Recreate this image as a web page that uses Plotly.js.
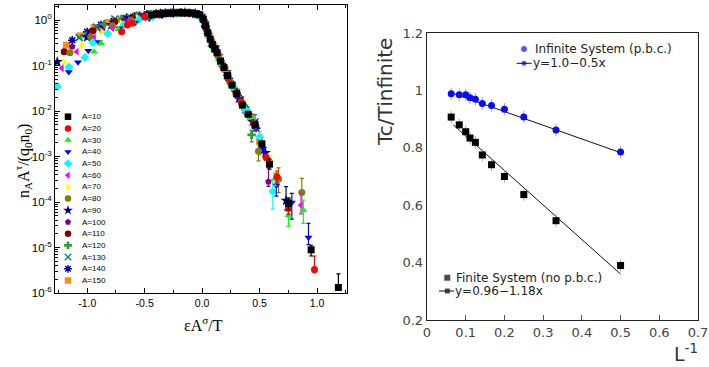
<!DOCTYPE html>
<html><head><meta charset="utf-8">
<script src="https://cdn.plot.ly/plotly-3.0.1.min.js"></script>
<style>html,body{margin:0;padding:0;background:#fff;}#chart{width:709px;height:367px;}</style>
</head><body><div id="chart"></div>
<script>
// ---------------- Left panel data (scaling collapse) ----------------
const seriesLabels = ['A=10','A=20','A=30','A=40','A=50','A=60','A=70','A=80','A=90','A=100','A=110','A=120','A=130','A=140','A=150'];
const seriesColors = ['#000000','#ff0000','#00ff00','#0000ff','#00ffff','#ff00ff','#ffff00','#808000','#000080','#800080','#800000','#339933','#008080','#0000a0','#ff8c1a'];
const seriesSymbols = ['square','circle','triangle-up','triangle-down','diamond','triangle-left','triangle-right','circle','star','pentagon','circle','cross','x-thin-open','asterisk-open','square'];

const xA10 = [-0.44,-0.38,-0.33,-0.28,-0.23,-0.18,-0.13,-0.09,-0.05,-0.02,0.01,0.03,0.05,0.07,0.09,0.11,0.13,0.16,0.19,0.22,0.26,0.30,0.35,0.40,0.46,0.52,0.586,0.751,0.948,1.185];
const yA10 = [1.29,1.35,1.39,1.42,1.44,1.45,1.44,1.42,1.38,1.30,1.05,0.74,0.52,0.38,0.29,0.23,0.19,0.125,0.090,0.060,0.037,0.024,0.0135,0.0085,0.0050,0.0019,0.00068,9.3e-5,8.9e-6,1.32e-6];
const errUpA10 = [2e-4,3e-5,2.3e-6,1.3e-6];
const errDnA10 = [1.5e-4,2.5e-5,2.4e-6,0];

const xA20 = [-0.70,-0.65,-0.61,-0.50,-0.40,-0.30,-0.21,-0.12,-0.04,0.04,0.13,0.23,0.34,0.45,0.557,0.65,0.751,0.977];
const yA20 = [0.55,0.78,0.85,1.17,1.30,1.38,1.42,1.40,1.30,0.60,0.19,0.052,0.016,0.0054,0.00095,0.00036,7.2e-5,3.3e-6];
const errUpA20 = [1.5e-4,1.2e-4,2.0e-5,3.2e-6];
const errDnA20 = [1.2e-4,1.0e-4,1.8e-5,0.5e-6];

const xA30 = [-0.94,-0.88,-0.73,-0.60,-0.48,-0.37,-0.27,-0.17,-0.08,0.01,0.10,0.20,0.31,0.42,0.52,0.635,0.751,0.88];
const yA30 = [0.20,0.31,0.63,0.90,1.12,1.27,1.36,1.40,1.37,1.0,0.26,0.079,0.022,0.0072,0.0019,0.00033,5.1e-5,6.6e-5];
const errUpA30 = [1.0e-4,2.1e-5,4.4e-5];
const errDnA30 = [1.0e-4,2.2e-5,3.2e-5];

const xA40 = [-1.16,-1.08,-0.99,-0.90,-0.72,-0.58,-0.46,-0.35,-0.25,-0.15,-0.06,0.03,0.12,0.22,0.33,0.44,0.53,0.645,0.78,0.925];
const yA40 = [0.072,0.118,0.21,0.33,0.66,0.88,1.08,1.24,1.33,1.38,1.34,0.70,0.21,0.06,0.018,0.0059,0.0015,0.00023,9.8e-5,1.66e-5];
const errUpA40 = [4e-4,0.8e-4,5.7e-5,1.74e-5];
const errDnA40 = [3e-4,0.95e-4,5.6e-5,0.5e-5];

const xA50 = [-1.26,-1.16,-1.02,-0.95,-0.82,-0.68,-0.55,-0.43,-0.32,-0.22,-0.12,-0.03,0.06,0.16,0.27,0.38,0.50,0.615];
const yA50 = [0.035,0.093,0.15,0.32,0.50,0.78,1.02,1.20,1.32,1.39,1.40,1.28,0.44,0.12,0.034,0.0105,0.0027,0.00017];
const errUpA50 = [1.4e-4];
const errDnA50 = [1.0e-4];

const xA60 = [-1.22,-1.09,-0.94,-0.78,-0.63,-0.50,-0.38,-0.27,-0.17,-0.07,0.02,0.12,0.23,0.34,0.46,0.58,0.86];
const yA60 = [0.087,0.20,0.41,0.66,0.92,1.13,1.28,1.37,1.40,1.35,0.85,0.21,0.052,0.016,0.0047,0.0008,8.5e-5];
const errUpA60 = [7e-5];
const errDnA60 = [3e-5];

const xA70 = [-1.20,-1.05,-0.87,-0.70,-0.56,-0.43,-0.32,-0.22,-0.12,-0.03,0.06,0.16,0.27,0.38,0.50,0.60];
const yA70 = [0.12,0.28,0.55,0.85,1.10,1.27,1.37,1.42,1.41,1.28,0.45,0.12,0.034,0.0105,0.0027,0.00078];
const errUpA70 = [2.5e-4];
const errDnA70 = [2e-4];

const xA80 = [-1.15,-0.97,-0.78,-0.62,-0.48,-0.36,-0.25,-0.15,-0.05,0.04,0.14,0.25,0.36,0.49,0.665,0.867];
const yA80 = [0.19,0.43,0.75,1.00,1.20,1.33,1.41,1.43,1.36,0.62,0.16,0.042,0.0125,0.0013,0.00032,0.000162];
const errUpA80 = [7e-4,2.4e-4,1.7e-4];
const errDnA80 = [5e-4,1.6e-4,7e-5];

const xA90 = [-1.26,-1.00,-0.79,-0.62,-0.48,-0.36,-0.25,-0.15,-0.06,0.02,0.11,0.21,0.32,0.44,0.55,0.73];
const yA90 = [0.12,0.42,0.78,1.05,1.25,1.36,1.43,1.44,1.38,0.85,0.25,0.072,0.019,0.0058,0.0012,0.000107];
const errUpA90 = [1.1e-4];
const errDnA90 = [4.1e-5];

const xA100 = [-1.13,-0.87,-0.68,-0.53,-0.41,-0.30,-0.20,-0.11,-0.03,0.05,0.13,0.22,0.31,0.41,0.50,0.577];
const yA100 = [0.26,0.60,0.98,1.22,1.36,1.43,1.46,1.42,1.28,0.52,0.20,0.058,0.022,0.0083,0.0026,0.00028];
const errUpA100 = [2.8e-4];
const errDnA100 = [6e-5];

const xA110 = [-1.20,-0.95,-0.76,-0.61,-0.49,-0.38,-0.28,-0.19,-0.11,-0.04,0.03,0.11,0.19,0.28,0.37];
const yA110 = [0.20,0.58,0.92,1.12,1.27,1.37,1.43,1.45,1.42,1.32,0.70,0.24,0.088,0.030,0.0118];
const errUpA110 = [];
const errDnA110 = [];

const xA120 = [-1.01,-0.85,-0.70,-0.57,-0.46,-0.36,-0.27,-0.19,-0.11,-0.04,0.03,0.10,0.18,0.26,0.35,0.43];
const yA120 = [0.45,0.80,1.05,1.22,1.33,1.41,1.45,1.46,1.43,1.33,0.72,0.26,0.10,0.037,0.014,0.0030];
const errUpA120 = [8e-4];
const errDnA120 = [9e-4];

const xA130 = [-1.07,-0.92,-0.76,-0.63,-0.52,-0.42,-0.33,-0.25,-0.17,-0.10,-0.04,0.02,0.08,0.15,0.22,0.30,0.38,0.46];
const yA130 = [0.41,0.70,1.05,1.18,1.30,1.38,1.43,1.45,1.45,1.42,1.32,0.85,0.31,0.15,0.060,0.025,0.0105,0.0058];
const errUpA130 = [2.5e-3];
const errDnA130 = [2.2e-3];

const xA140 = [-1.13,-1.00,-0.88,-0.77,-0.66,-0.57,-0.48,-0.40,-0.32,-0.25,-0.18,-0.12,-0.06,0.00,0.05,0.11,0.17,0.24,0.31,0.39,0.47];
const yA140 = [0.36,0.55,0.78,0.95,1.10,1.25,1.33,1.40,1.44,1.46,1.46,1.43,1.35,1.15,0.50,0.24,0.11,0.046,0.022,0.0095,0.0042];
const errUpA140 = [];
const errDnA140 = [];

const xA150 = [-1.18,-1.06,-0.94,-0.82,-0.70,-0.58,-0.48,-0.40,-0.33,-0.27,-0.21,-0.16,-0.11,-0.07,-0.03,0.00,0.02,0.04,0.06,0.08,0.10,0.12,0.14,0.16,0.18,0.20,0.23,0.26,0.29,0.33,0.37,0.42,0.46,0.50];
const yA150 = [0.28,0.45,0.68,0.88,1.05,1.22,1.32,1.40,1.45,1.48,1.49,1.48,1.45,1.40,1.30,1.18,0.90,0.65,0.46,0.34,0.27,0.22,0.17,0.13,0.10,0.082,0.055,0.038,0.027,0.018,0.0118,0.0075,0.0050,0.0021];
const errUpA150 = [1.4e-3];
const errDnA150 = [1.0e-3];

const leftX = [xA10,xA20,xA30,xA40,xA50,xA60,xA70,xA80,xA90,xA100,xA110,xA120,xA130,xA140,xA150];
const leftY = [yA10,yA20,yA30,yA40,yA50,yA60,yA70,yA80,yA90,yA100,yA110,yA120,yA130,yA140,yA150];
const leftEU = [errUpA10,errUpA20,errUpA30,errUpA40,errUpA50,errUpA60,errUpA70,errUpA80,errUpA90,errUpA100,errUpA110,errUpA120,errUpA130,errUpA140,errUpA150];
const leftED = [errDnA10,errDnA20,errDnA30,errDnA40,errDnA50,errDnA60,errDnA70,errDnA80,errDnA90,errDnA100,errDnA110,errDnA120,errDnA130,errDnA140,errDnA150];

const yTickVals = [1e-6,1e-5,1e-4,1e-3,1e-2,1e-1,1];
const yTickText = ['10<sup>-6</sup>','10<sup>-5</sup>','10<sup>-4</sup>','10<sup>-3</sup>','10<sup>-2</sup>','10<sup>-1</sup>','10<sup>0</sup>'];
const xTickVals = [-1,-0.5,0,0.5,1];
const xTickText = ['-1.0','-0.5','0.0','0.5','1.0'];

// ---------------- Right panel data ----------------
const invL = [0.0625,0.0833,0.1,0.1111,0.125,0.1429,0.1667,0.2,0.25,0.3333,0.5];
const tcInfinite = [0.988,0.985,0.985,0.974,0.969,0.954,0.947,0.934,0.907,0.862,0.785];
const tcFinite = [0.907,0.880,0.856,0.834,0.819,0.775,0.741,0.700,0.637,0.546,0.390];
const fitInfX = [0.0625,0.5];
const fitInfY = [0.992,0.783];
const fitFinX = [0.068,0.5];
const fitFinY = [0.880,0.360];

// ---------------- Build traces ----------------
const traces = [];
const thin = s => s.indexOf('thin') >= 0 || s.indexOf('asterisk') >= 0;
for (let i = seriesLabels.length - 1; i >= 0; i--) {
  const n = leftX[i].length, k = leftEU[i].length;
  const up = [], dn = [];
  for (let j = 0; j < n; j++) {
    if (j >= n - k) { up.push(leftEU[i][j-(n-k)]); dn.push(leftED[i][j-(n-k)]); }
    else { up.push(NaN); dn.push(NaN); }
  }
  const sym = seriesSymbols[i];
  traces.push({
    type:'scatter', mode:'markers', x:leftX[i], y:leftY[i], xaxis:'x', yaxis:'y',
    name:seriesLabels[i], showlegend:false, cliponaxis:true,
    marker:{symbol:sym, color:seriesColors[i], size: sym==='star'?8.5:7,
            line:{color:seriesColors[i], width: thin(sym)?1.6:0}},
    error_y: k ? {type:'data', symmetric:false, array:up, arrayminus:dn, color:seriesColors[i], thickness:1.2, width:2} : {visible:false}
  });
}
// left legend keys (pixel overlay axis)
for (let i = 0; i < seriesLabels.length; i++) {
  const sym = seriesSymbols[i];
  traces.push({
    type:'scatter', mode:'markers', x:[68], y:[116.7 + i*11.7], xaxis:'x3', yaxis:'y3', showlegend:false,
    marker:{symbol:sym, color:seriesColors[i], size: sym==='star'?7.5:6.5,
            line:{color:seriesColors[i], width: thin(sym)?1.4:0}}
  });
}

// right panel
traces.push({type:'scatter', mode:'lines', x:fitInfX, y:fitInfY, xaxis:'x2', yaxis:'y2', showlegend:false, line:{color:'#111', width:1}});
traces.push({type:'scatter', mode:'lines', x:fitFinX, y:fitFinY, xaxis:'x2', yaxis:'y2', showlegend:false, line:{color:'#111', width:1}});
traces.push({type:'scatter', mode:'markers', x:invL, y:tcInfinite, xaxis:'x2', yaxis:'y2', showlegend:false,
  marker:{symbol:'circle', color:'#0a0aff', size:7},
  error_y:{type:'constant', value:0.022, color:'#aaaaaa', thickness:1, width:0}});
traces.push({type:'scatter', mode:'markers', x:invL, y:tcFinite, xaxis:'x2', yaxis:'y2', showlegend:false,
  marker:{symbol:'square', color:'#000', size:7},
  error_y:{type:'constant', value:0.022, color:'#aaaaaa', thickness:1, width:0}});
// right legend keys
traces.push({type:'scatter', mode:'markers', x:[524,524], y:[49,63.3], xaxis:'x3', yaxis:'y3', showlegend:false,
  marker:{symbol:'circle', color:'#0a0aff', size:[7,6]}});
traces.push({type:'scatter', mode:'markers', x:[447.3,447.3], y:[277.7,291], xaxis:'x3', yaxis:'y3', showlegend:false,
  marker:{symbol:'square', color:'#000', size:[7,6]}});

const annotations = [];
for (let i = 0; i < seriesLabels.length; i++) {
  annotations.push({xref:'x3', yref:'y3', x:80, y:116.7 + i*11.7, text:seriesLabels[i], showarrow:false,
    xanchor:'left', yanchor:'middle', font:{family:'Liberation Sans, Arial, sans-serif', size:8, color:'#000'}});
}
annotations.push({xref:'x3', yref:'y3', x:23, y:161, textangle:-90, showarrow:false,
  text:'n<sub>A</sub>A<sup>τ</sup>/(q<sub>0</sub>n<sub>0</sub>)', font:{family:'Liberation Serif, Times New Roman, serif', size:16, color:'#000'}});
annotations.push({xref:'x3', yref:'y3', x:203, y:324, showarrow:false,
  text:'εA<sup>σ</sup>/T', font:{family:'Liberation Serif, Times New Roman, serif', size:16, color:'#000'}});
annotations.push({xref:'x3', yref:'y3', x:385, y:92, textangle:-90, showarrow:false,
  text:'Tc/Tinfinite', font:{family:'DejaVu Sans, sans-serif', size:20, color:'#333'}});
annotations.push({xref:'x3', yref:'y3', x:686, y:353, showarrow:false,
  text:'L<sup>-1</sup>', font:{family:'DejaVu Sans, sans-serif', size:19, color:'#333'}});
const rightLegFont = {family:'DejaVu Sans, sans-serif', size:12, color:'#222'};
annotations.push({xref:'x3', yref:'y3', x:533, y:49, xanchor:'left', showarrow:false, text:'Infinite System (p.b.c.)', font:rightLegFont});
annotations.push({xref:'x3', yref:'y3', x:531, y:63.3, xanchor:'left', showarrow:false, text:'y=1.0−0.5x', font:rightLegFont});
annotations.push({xref:'x3', yref:'y3', x:454, y:277.7, xanchor:'left', showarrow:false, text:'Finite System (no p.b.c.)', font:rightLegFont});
annotations.push({xref:'x3', yref:'y3', x:453, y:291, xanchor:'left', showarrow:false, text:'y=0.96−1.18x', font:rightLegFont});

const shapes = [
  {type:'line', xref:'x3', yref:'y3', x0:516.7, x1:531.7, y0:63.3, y1:63.3, line:{color:'#111', width:1}},
  {type:'line', xref:'x3', yref:'y3', x0:439, x1:454.3, y0:291, y1:291, line:{color:'#111', width:1}}
];

const W = 709, H = 367;
const layout = {
  width:W, height:H, margin:{l:0,r:0,t:0,b:0}, paper_bgcolor:'#fff', plot_bgcolor:'rgba(0,0,0,0)',
  showlegend:false,
  xaxis:{domain:[55/W,347/W], anchor:'y', range:[-1.28,1.26], tickmode:'array', tickvals:xTickVals, ticktext:xTickText,
    ticks:'inside', ticklen:5, tickcolor:'#000', showline:true, linecolor:'#000', linewidth:1, mirror:'ticks',
    showgrid:false, zeroline:false, tickfont:{family:'Liberation Sans, Arial, sans-serif', size:10.5, color:'#000'},
    minor:{tickmode:'linear', tick0:0, dtick:0.25, ticks:'inside', ticklen:3, tickcolor:'#000', showgrid:false}},
  yaxis:{domain:[1-293/H,1-5/H], anchor:'x', type:'log', range:[-6,0.33], tickmode:'array', tickvals:yTickVals, ticktext:yTickText,
    ticks:'inside', ticklen:5, tickcolor:'#000', showline:true, linecolor:'#000', linewidth:1, mirror:true,
    showgrid:false, zeroline:false, tickfont:{family:'Liberation Sans, Arial, sans-serif', size:11.5, color:'#000'},
    minor:{dtick:'D1', ticks:'inside', ticklen:2.5, tickcolor:'#000', showgrid:false}},
  xaxis2:{domain:[427/W,698/W], anchor:'y2', range:[0,0.7], dtick:0.1, tick0:0,
    ticks:'inside', ticklen:5, tickcolor:'#555', showline:true, linecolor:'#222', linewidth:1.3, mirror:true,
    showgrid:false, zeroline:false, tickfont:{family:'DejaVu Sans, sans-serif', size:13, color:'#444'}},
  yaxis2:{domain:[1-320/H,1-33/H], anchor:'x2', range:[0.2,1.2], dtick:0.2, tick0:0.2,
    ticks:'', showline:true, linecolor:'#222', linewidth:1.3, mirror:true,
    showgrid:false, zeroline:false, tickfont:{family:'DejaVu Sans, sans-serif', size:13, color:'#444'}},
  xaxis3:{domain:[0,1], anchor:'y3', range:[0,W], visible:false, fixedrange:true},
  yaxis3:{domain:[0,1], anchor:'x3', range:[H,0], visible:false, fixedrange:true},
  annotations:annotations, shapes:shapes
};
Plotly.newPlot('chart', traces, layout, {displayModeBar:false, staticPlot:true});
</script></body></html>
